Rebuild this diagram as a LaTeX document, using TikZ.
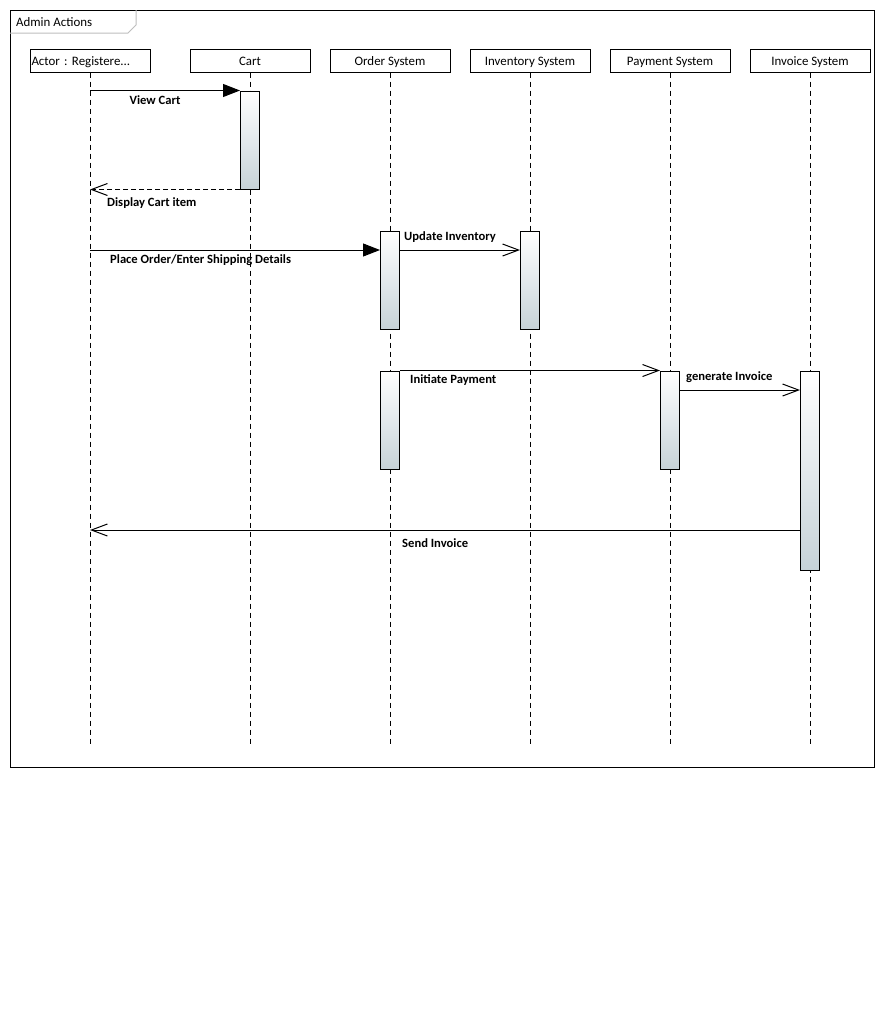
\documentclass[tikz,border=0pt]{standalone}
\usepackage{fontspec}
\setmainfont{Carlito}
\usetikzlibrary{arrows.meta}
\definecolor{actgray}{RGB}{198,210,216}
\definecolor{tabgray}{RGB}{190,190,190}
\frenchspacing
\begin{document}
\begin{tikzpicture}[x=1pt,y=-1pt,
  head/.style={draw, line width=1pt, minimum width=120pt, minimum height=23pt, inner sep=0pt, fill=white, text height=10.5pt, text depth=0.5pt, font=\fontsize{12.9}{14}\selectfont},
  life/.style={line width=1pt, dash pattern=on 5pt off 4pt},
  act/.style={draw, line width=1pt, minimum width=19pt, inner sep=0pt, top color=white, bottom color=actgray},
  msg/.style={line width=1pt},
  sync/.style={msg, -{Triangle[length=17pt,width=13pt]}},
  asyn/.style={msg, -{Straight Barb[length=16pt,width=12pt,line width=1pt]}},
  reply/.style={asyn, dash pattern=on 5pt off 3pt},
  lbl/.style={inner sep=0pt, font=\fontsize{12.6}{14}\selectfont\bfseries},
  ttl/.style={inner sep=0pt, font=\fontsize{12.9}{14}\selectfont}]
\fill[white] (0,0) rectangle (885,1020);
\useasboundingbox (0,0) rectangle (885,1020);
% frame
\draw[line width=1pt] (10,10) rectangle (874,767);
\draw[tabgray, line width=1pt] (10,33) -- (128,33) -- (136,25) -- (136,10);
\node[ttl, anchor=west] (title) at (16,22) {Admin Actions};
% headers
\node[head, text width=117pt, align=left] (actor) at (90,60.5) {Actor : Registere...};
\node[head] (cart) at (250,60.5) {Cart};
\node[head] (order) at (390,60.5) {Order System};
\node[head] (inv) at (530,60.5) {Inventory System};
\node[head] (pay) at (670,60.5) {Payment System};
\node[head] (invc) at (810,60.5) {Invoice System};
% lifelines
\foreach \n in {actor,cart,order,inv,pay,invc}
  \draw[life] (\n.south) -- (\n |- 0,747);
% activations
\node[act, minimum height=98pt] (c1) at (250,140) {};
\node[act, minimum height=98pt] (o1) at (390,280) {};
\node[act, minimum height=98pt] (i1) at (530,280) {};
\node[act, minimum height=98pt] (o2) at (390,420) {};
\node[act, minimum height=98pt] (p1) at (670,420) {};
\node[act, minimum height=199pt] (v1) at (810,470.5) {};
% messages
\draw[sync] (actor |- 0,90.5) -- (c1.west |- 0,90.5);
\node[lbl] (l1) at (155,100) {View Cart};
\draw[reply] (c1.south west) -- (actor |- c1.south west);
\node[lbl, anchor=west] (l2) at (107,203) {Display Cart item};
\draw[sync] (actor |- 0,250) -- (o1.west |- 0,250);
\node[lbl, anchor=west] (l3) at (110,260) {Place Order/Enter Shipping Details};
\draw[asyn] (o1.east |- 0,250) -- (i1.west |- 0,250);
\node[lbl, anchor=west] (l4) at (404,237) {Update Inventory};
\draw[asyn] (o2.north east) -- (p1.north west);
\node[lbl, anchor=west] (l5) at (410,380) {Initiate Payment};
\draw[asyn] (p1.east |- 0,390) -- (v1.west |- 0,390);
\node[lbl, anchor=west] (l6) at (686,377) {generate Invoice};
\draw[asyn] (v1.west |- 0,530) -- (actor |- 0,530);
\node[lbl, anchor=west] (l7) at (402,543) {Send Invoice};
\end{tikzpicture}
\end{document}
